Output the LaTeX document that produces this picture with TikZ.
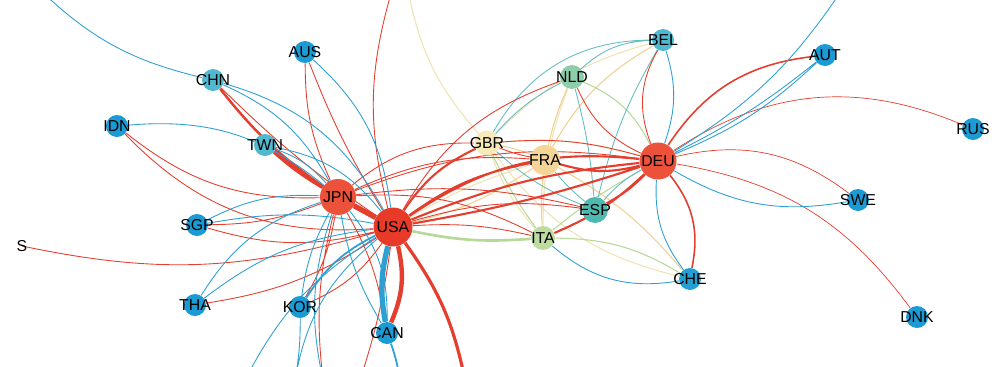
\documentclass[tikz,border=0pt]{standalone}
\usepackage{fontspec}
\setmainfont{Liberation Sans}
\definecolor{nblue}{RGB}{28,154,212}
\definecolor{nlblue}{RGB}{80,185,208}
\definecolor{nred}{RGB}{236,82,58}
\definecolor{ndred}{RGB}{232,58,40}
\definecolor{ngbr}{RGB}{246,234,184}
\definecolor{nfra}{RGB}{245,212,152}
\definecolor{nnld}{RGB}{140,205,170}
\definecolor{nesp}{RGB}{80,185,175}
\definecolor{nita}{RGB}{190,220,160}
\definecolor{ered}{RGB}{228,62,46}
\definecolor{eblue}{RGB}{45,160,210}
\definecolor{eteal}{RGB}{100,188,196}
\definecolor{epale}{RGB}{240,226,178}
\definecolor{etan}{RGB}{240,208,145}
\definecolor{egreen}{RGB}{182,216,152}
\pgfdeclarelayer{edges}
\pgfsetlayers{edges,main}
\tikzset{
  every label/.style={text=black,font=\fontsize{9}{9}\selectfont,inner sep=0pt},
  country/.style={circle,inner sep=0pt,minimum size=0.44cm},
  small/.style={country,fill=nblue},
  big/.style={country,fill=nred,minimum size=0.72cm},
  redline/.style={draw=ered,line width=0.5pt},
  blueline/.style={draw=eblue,line width=0.5pt},
  tealline/.style={draw=eteal,line width=0.5pt},
  paleline/.style={draw=epale,line width=0.6pt},
  tanline/.style={draw=etan,line width=0.6pt},
  greenline/.style={draw=egreen,line width=0.6pt}
}
\begin{document}
\begin{tikzpicture}[x=0.02cm,y=-0.02cm]
    \useasboundingbox (0,0) rectangle (998,366);
    % Asia and America
    \node[small,fill=nlblue,label=center:CHN] (CHN) at (213,80) {};
    \node[small,label=center:AUS] (AUS) at (305,52) {};
    \node[small,label=center:IDN] (IDN) at (117,126) {};
    \node[small,fill=nlblue,label=center:TWN] (TWN) at (265,145) {};
    \node[big,label=center:JPN] (JPN) at (338,197) {};
    \node[big,fill=ndred,minimum size=0.78cm,label=center:USA] (USA) at (393,227) {};
    \node[small,label=center:SGP] (SGP) at (197,225) {};
    \node[small,label=center:THA] (THA) at (195,305) {};
    \node[small,label=center:KOR] (KOR) at (300,307) {};
    \node[small,label=center:CAN] (CAN) at (387,333) {};
    \node[country,minimum size=0pt,label=center:S] (S) at (22,246) {};
    % Europe
    \node[country,fill=ngbr,minimum size=0.5cm,label=center:GBR] (GBR) at (487,143) {};
    \node[country,fill=nfra,minimum size=0.6cm,label=center:FRA] (FRA) at (545,160) {};
    \node[country,fill=nnld,minimum size=0.48cm,label=center:NLD] (NLD) at (572,77) {};
    \node[small,fill=nlblue,label=center:BEL] (BEL) at (663,40) {};
    \node[big,minimum size=0.74cm,label=center:DEU] (DEU) at (658,161) {};
    \node[country,fill=nesp,minimum size=0.52cm,label=center:ESP] (ESP) at (595,210) {};
    \node[country,fill=nita,minimum size=0.48cm,label=center:ITA] (ITA) at (543,238) {};
    \node[small,fill=nblue!85!nlblue,label=center:CHE] (CHE) at (690,279) {};
    \node[small,label=center:AUT] (AUT) at (825,55) {};
    \node[small,label=center:RUS] (RUS) at (973,129) {};
    \node[small,label=center:SWE] (SWE) at (858,200) {};
    \node[small,label=center:DNK] (DNK) at (917,317) {};
    % free ends
    \coordinate (TL) at (40,-10);
    \coordinate (TR) at (842,-10);
    \coordinate (TM) at (392,-10);
    \coordinate (TP) at (408,-10);
    \coordinate (B1) at (465,380);
    \coordinate (B2) at (400,380);
    \coordinate (B3) at (245,380);
    \coordinate (B4) at (295,380);
    \coordinate (B5) at (323,380);
    \coordinate (B6) at (360,380);
    \begin{pgfonlayer}{edges}
    \clip (0,0) rectangle (998,366);
    % pale European links
    \draw[paleline] (GBR) to[bend left=15] (TP);
    \draw[paleline] (GBR) to[bend right=10] (ITA) (GBR) to[bend left=10] (DEU)
        (GBR) to[bend right=20] (CHE) (NLD) to[bend right=10] (ITA)
        (BEL) to[bend right=15] (GBR) (USA) to[bend left=6] (FRA);
    \draw[tanline] (BEL) to[bend right=15] (FRA) (NLD) to[bend right=5] (FRA)
        (FRA) to[bend left=10] (CHE) (FRA) to[bend right=5] (ITA)
        (GBR) to[bend left=5] (FRA) (USA) to[bend right=10] (FRA);
    \draw[greenline] (NLD) to[bend left=20] (DEU) (ITA) to[bend left=15] (CHE)
        (ITA) to[bend left=5] (DEU) (GBR) to[bend right=5] (ITA);
    \draw[greenline,line width=1.5pt] (USA) to[bend right=8] (ITA);
    \draw[tealline] (BEL) to[bend right=20] (NLD) (NLD) to[bend right=10] (GBR)
        (NLD) to[bend left=5] (ESP) (GBR) to[bend right=10] (ESP)
        (FRA) to[bend right=5] (ESP) (ESP) to[bend left=10] (DEU)
        (BEL) to[bend right=8] (ESP) (BEL) to[bend right=30] (GBR);
    % Europe, red
    \draw[redline,line width=1.2pt] (USA) to[bend left=15] (GBR)
        (USA) to[bend left=12] (FRA) (USA) to[bend left=20] (DEU)
        (USA) to[bend left=8] (DEU) (FRA) to[bend right=15] (DEU)
        (ITA) to[bend right=10] (DEU) (ESP) to[bend right=8] (DEU)
        (USA) to[bend right=4] (DEU);
    \draw[redline] (NLD) to[bend right=20] (USA) (ESP) to[bend right=12] (USA)
        (ITA) to[bend right=8] (USA) (JPN) to[bend left=20] (GBR)
        (JPN) to[bend left=14] (FRA) (JPN) to[bend left=14] (DEU)
        (GBR) to[bend left=10] (DEU) (NLD) to[bend right=20] (DEU)
        (BEL) to[bend right=25] (DEU) (ESP) to[bend right=10] (JPN)
        (ITA) to[bend right=15] (JPN) (GBR) to[bend right=5] (FRA);
    \draw[redline,line width=0.9pt] (DEU) to[bend left=25] (AUT)
        (DEU) to[bend left=25] (CHE);
    \draw[redline,line width=0.4pt] (DEU) to[bend left=28] (RUS)
        (DEU) to[bend left=25] (SWE) (DEU) to[bend left=22] (DNK);
    % Europe, blue
    \draw[blueline] (BEL) to[bend left=18] (DEU) (DEU) to[bend right=20] (CHE)
        (DEU) to[bend right=20] (SWE) (DEU) to[bend right=10] (AUT)
        (DEU) to[bend right=6] (AUT) (DEU) to[bend right=12] (TR)
        (ITA) to[bend right=25] (CHE);
    % Asia, red
    \draw[redline,line width=3pt] (JPN) -- (USA);
    \draw[redline,line width=1.4pt] (TWN) to[bend right=5] (JPN)
        (TWN) to[bend right=4] (USA) (CHN) to[bend right=8] (JPN);
    \draw[redline,line width=2.5pt] (CAN) to[bend right=18] (USA);
    \draw[redline,line width=1.8pt] (USA) to[bend left=12] (B1);
    \draw[redline] (CHN) to[bend right=5] (USA) (AUS) to[bend right=12] (JPN)
        (AUS) to[bend right=5] (USA) (IDN) to[bend right=25] (USA)
        (SGP) to[bend right=10] (JPN) (SGP) to[bend right=15] (USA)
        (THA) to[bend right=12] (USA) (KOR) to[bend right=15] (USA)
        (KOR) to[bend right=10] (JPN) (CAN) to[bend right=10] (JPN)
        (S) to[bend right=14] (USA) (TM) to[bend right=15] (USA)
        (JPN) to[bend right=10] (B5) (USA) to[bend left=5] (B6)
        (IDN) to[bend right=20] (JPN);
    % Asia, blue
    \draw[blueline,line width=3pt] (CAN) to[bend left=12] (USA);
    \draw[blueline,line width=1pt] (KOR) to[bend left=15] (USA)
        (CAN) to[bend left=5] (B2);
    \draw[blueline] (CHN) to[bend left=15] (TL) (CHN) to[bend left=22] (USA)
        (CHN) to[bend left=18] (JPN) (AUS) to[bend left=20] (USA)
        (IDN) to[bend left=22] (JPN) (TWN) to[bend left=20] (USA)
        (TWN) to[bend left=14] (JPN) (SGP) to[bend left=15] (JPN)
        (SGP) to[bend left=10] (USA) (THA) to[bend left=20] (JPN)
        (THA) to[bend left=15] (USA) (KOR) to[bend left=10] (JPN)
        (CAN) to[bend left=10] (JPN) (B3) to[bend left=15] (USA)
        (KOR) to[bend left=5] (B4) (JPN) to[bend right=15] (B5)
        (CAN) to[bend right=20] (JPN) (USA) to[bend right=20] (B4);
    \end{pgfonlayer}
\end{tikzpicture}
\end{document}
